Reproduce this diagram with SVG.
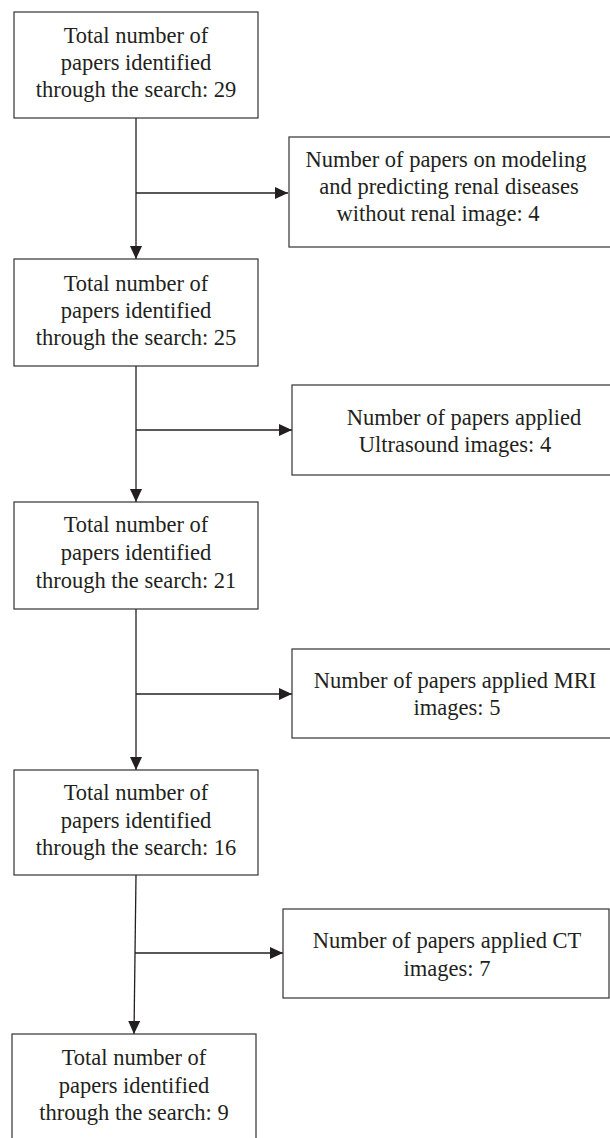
<svg xmlns="http://www.w3.org/2000/svg" width="610" height="1138" viewBox="0 0 610 1138">
<style>
.box{fill:#fff;stroke:#333;stroke-width:1.2}
.t{font-family:"Liberation Serif","Times New Roman",serif;font-size:22.5px;fill:#231f20;text-anchor:middle}
.c{stroke:#231f20;stroke-width:1.3;fill:none}
</style>
<defs>
<marker id="ah" viewBox="0 0 13 12" refX="13" refY="6" markerWidth="13" markerHeight="12" markerUnits="userSpaceOnUse" orient="auto">
<path d="M0,0 L13,6 L0,12 z" fill="#231f20"/>
</marker>
</defs>
<rect width="610" height="1138" fill="#fff"/>
<g id="connectors">
<line class="c" x1="136" y1="118" x2="136" y2="259" marker-end="url(#ah)"/>
<line class="c" x1="136" y1="193" x2="288" y2="193" marker-end="url(#ah)"/>
<line class="c" x1="136" y1="366" x2="136" y2="502" marker-end="url(#ah)"/>
<line class="c" x1="136" y1="430" x2="292" y2="430" marker-end="url(#ah)"/>
<line class="c" x1="136" y1="609" x2="136" y2="770" marker-end="url(#ah)"/>
<line class="c" x1="136" y1="694" x2="292" y2="694" marker-end="url(#ah)"/>
<line class="c" x1="136" y1="875" x2="134" y2="1034" marker-end="url(#ah)"/>
<line class="c" x1="135" y1="953" x2="283" y2="953" marker-end="url(#ah)"/>
</g>
<g id="n1">
<rect class="box" x="14" y="12" width="244" height="106"/>
<text class="t" x="136" y="43">Total number of</text>
<text class="t" x="136" y="70">papers identified</text>
<text class="t" x="136" y="97">through the search: 29</text>
</g>
<g id="s1">
<rect class="box" x="289" y="137" width="330" height="110"/>
<text class="t" x="446" y="167">Number of papers on modeling</text>
<text class="t" x="449" y="194">and predicting renal diseases</text>
<text class="t" x="438" y="221">without renal image: 4</text>
</g>
<g id="n2">
<rect class="box" x="14" y="259" width="244" height="107"/>
<text class="t" x="136" y="291">Total number of</text>
<text class="t" x="136" y="318">papers identified</text>
<text class="t" x="136" y="345">through the search: 25</text>
</g>
<g id="s2">
<rect class="box" x="292" y="385" width="330" height="90"/>
<text class="t" x="464" y="425">Number of papers applied</text>
<text class="t" x="455" y="452">Ultrasound images: 4</text>
</g>
<g id="n3">
<rect class="box" x="14" y="502" width="244" height="107"/>
<text class="t" x="136" y="532">Total number of</text>
<text class="t" x="136" y="560">papers identified</text>
<text class="t" x="136" y="588">through the search: 21</text>
</g>
<g id="s3">
<rect class="box" x="292" y="649" width="330" height="89"/>
<text class="t" x="455" y="688">Number of papers applied MRI</text>
<text class="t" x="457" y="715">images: 5</text>
</g>
<g id="n4">
<rect class="box" x="14" y="770" width="244" height="105"/>
<text class="t" x="136" y="800">Total number of</text>
<text class="t" x="136" y="828">papers identified</text>
<text class="t" x="136" y="855">through the search: 16</text>
</g>
<g id="s4">
<rect class="box" x="283" y="909" width="326" height="89"/>
<text class="t" x="447" y="948">Number of papers applied CT</text>
<text class="t" x="447" y="976">images: 7</text>
</g>
<g id="n5">
<rect class="box" x="12" y="1034" width="244" height="110"/>
<text class="t" x="134" y="1065">Total number of</text>
<text class="t" x="134" y="1093">papers identified</text>
<text class="t" x="134" y="1120">through the search: 9</text>
</g>
</svg>
